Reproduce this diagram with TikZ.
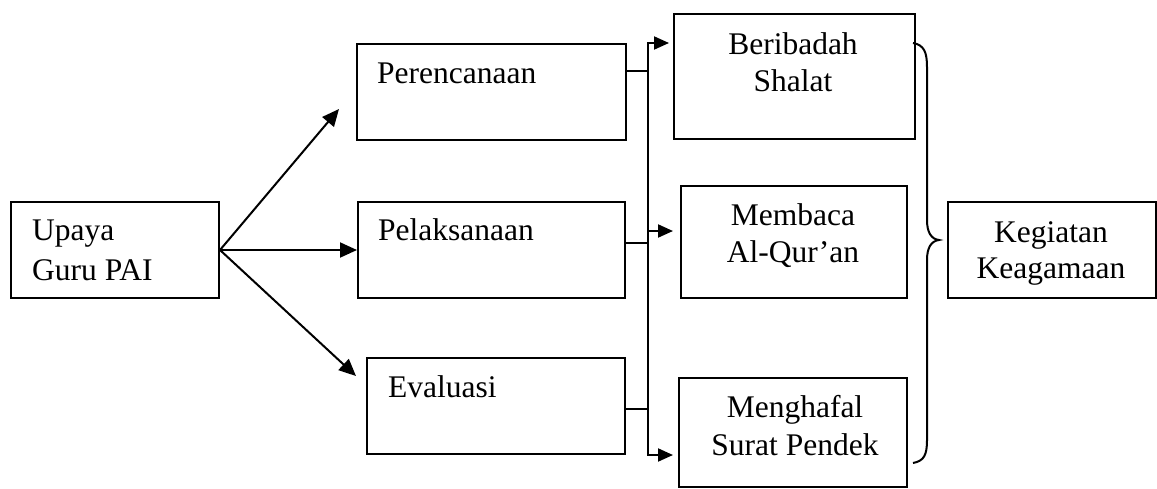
\documentclass[tikz,border=0pt]{standalone}
\usepackage{fontspec}
\setmainfont{Liberation Serif}
\usetikzlibrary{arrows.meta}
\begin{document}
\begin{tikzpicture}[x=1pt,y=-1pt,
  box/.style={draw, line width=2pt, rectangle, inner sep=0pt, anchor=north west},
  txt/.style={inner sep=0pt, font=\fontsize{31.5}{37}\selectfont},
  bigarr/.style={line width=2pt, -{Triangle[length=17pt,width=15pt]}},
  smallarr/.style={line width=2pt, -{Triangle[length=15pt,width=13pt]}},
  link/.style={line width=2pt}
]
\useasboundingbox (0,0) rectangle (1157,488);

% boxes
\node[box, minimum width=208pt, minimum height=96pt] (U) at (10,201) {};
\node[box, minimum width=269pt, minimum height=96pt] (P) at (356,43) {};
\node[box, minimum width=267pt, minimum height=96pt] (L) at (357,201) {};
\node[box, minimum width=258pt, minimum height=96pt] (E) at (366,357) {};
\node[box, minimum width=241pt, minimum height=125pt] (B) at (673,13) {};
\node[box, minimum width=226pt, minimum height=112pt] (M) at (680,185) {};
\node[box, minimum width=228pt, minimum height=109pt] (S) at (678,377) {};
\node[box, minimum width=208pt, minimum height=96pt] (K) at (947,201) {};

% texts
\node[txt, anchor=base west] (tU1) at (32,240.7) {Upaya};
\node[txt, anchor=base west] (tU2) at (32,280.7) {Guru PAI};
\node[txt, anchor=base west] (tP) at (377,83) {Perencanaan};
\node[txt, anchor=base west] (tL) at (378,240.7) {Pelaksanaan};
\node[txt, anchor=base west] (tE) at (388,397) {Evaluasi};
\node[txt, anchor=base] (tB1) at (793,54) {Beribadah};
\node[txt, anchor=base] (tB2) at (793,91) {Shalat};
\node[txt, anchor=base] (tM1) at (793,225) {Membaca};
\node[txt, anchor=base] (tM2) at (793,262) {Al-Qur’an};
\node[txt, anchor=base] (tS1) at (795,417) {Menghafal};
\node[txt, anchor=base] (tS2) at (795,455) {Surat Pendek};
\node[txt, anchor=base] (tK1) at (1051,242) {Kegiatan};
\node[txt, anchor=base] (tK2) at (1051,278) {Keagamaan};

% arrows from Upaya
\coordinate (tipP) at (339,109);
\coordinate (tipE) at (356,376);
\draw[bigarr] (U.east) -- (tipP);
\draw[bigarr] (U.east) -- (L.west);
\draw[bigarr] (U.east) -- (tipE);

% bus
\coordinate (busT) at (648,43);
\coordinate (busB) at (648,455);
\coordinate (jP) at (648,71);
\coordinate (jL) at (648,243);
\coordinate (jE) at (648,409);
\coordinate (busM) at (648,231);
\draw[link] (P.east |- jP) -- (jP);
\draw[link] (L.east |- jL) -- (jL);
\draw[link] (E.east |- jE) -- (jE);
\draw[smallarr, shorten >=4pt, line join=miter] (busB) -- (busT) -- (B.west |- busT);
\draw[smallarr, shorten >=5pt, line join=miter] (busT) -- (busB) -- (S.west |- busB);
\draw[smallarr, shorten >=7pt] (busM) -- (M.west |- busM);

% brace
\coordinate (brT) at (913,43);
\coordinate (brM) at (939,240);
\coordinate (brB) at (913,463);
\draw[link] (brT) .. controls (924,45) and (927,52) .. (927,67)
  -- (927,220) .. controls (927,232) and (931,239) .. (brM)
  .. controls (931,241) and (927,248) .. (927,260)
  -- (927,440) .. controls (927,455) and (924,461) .. (brB);
\end{tikzpicture}
\end{document}
